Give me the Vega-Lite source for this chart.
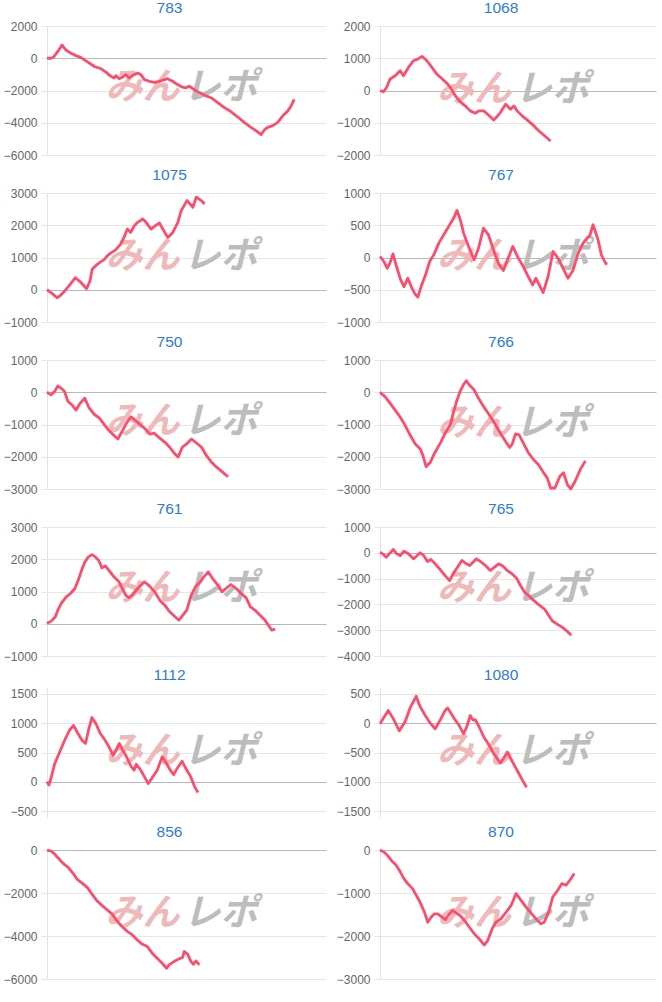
{
"$schema":"https://vega.github.io/schema/vega-lite/v6.json",
"background":"white",
"padding":{"left":3,"top":0,"right":4,"bottom":0},
"datasets":{"d":[
{"p":"783","x":0,"y":0},{"p":"783","x":1.4,"y":0},{"p":"783","x":2.4,"y":82},{"p":"783","x":3.8,"y":408},{"p":"783","x":5.4,"y":816},{"p":"783","x":6.8,"y":510},{"p":"783","x":8.6,"y":306},{"p":"783","x":10.4,"y":163},{"p":"783","x":12.2,"y":41},{"p":"783","x":13.4,"y":-102},{"p":"783","x":15.2,"y":-306},{"p":"783","x":17.0,"y":-510},{"p":"783","x":19.4,"y":-653},{"p":"783","x":21.1,"y":-857},{"p":"783","x":22.9,"y":-1122},{"p":"783","x":24.1,"y":-1224},{"p":"783","x":24.7,"y":-1081},{"p":"783","x":25.9,"y":-1265},{"p":"783","x":27.1,"y":-1163},{"p":"783","x":28.3,"y":-1020},{"p":"783","x":29.5,"y":-1224},{"p":"783","x":30.7,"y":-1061},{"p":"783","x":32.5,"y":-918},{"p":"783","x":33.7,"y":-1020},{"p":"783","x":34.9,"y":-1326},{"p":"783","x":36.7,"y":-1428},{"p":"783","x":38.5,"y":-1489},{"p":"783","x":40.3,"y":-1428},{"p":"783","x":42.1,"y":-1326},{"p":"783","x":43.2,"y":-1265},{"p":"783","x":45.0,"y":-1428},{"p":"783","x":46.8,"y":-1632},{"p":"783","x":48.6,"y":-1795},{"p":"783","x":49.8,"y":-1836},{"p":"783","x":51.0,"y":-1734},{"p":"783","x":52.2,"y":-1877},{"p":"783","x":54.0,"y":-2081},{"p":"783","x":56.4,"y":-2285},{"p":"783","x":58.8,"y":-2448},{"p":"783","x":61.2,"y":-2754},{"p":"783","x":63.6,"y":-3060},{"p":"783","x":65.9,"y":-3305},{"p":"783","x":68.3,"y":-3631},{"p":"783","x":70.7,"y":-3978},{"p":"783","x":73.1,"y":-4284},{"p":"783","x":74.9,"y":-4488},{"p":"783","x":76.7,"y":-4733},{"p":"783","x":77.9,"y":-4447},{"p":"783","x":79.1,"y":-4284},{"p":"783","x":80.9,"y":-4182},{"p":"783","x":82.7,"y":-3978},{"p":"783","x":84.5,"y":-3570},{"p":"783","x":86.3,"y":-3264},{"p":"783","x":87.5,"y":-2958},{"p":"783","x":88.6,"y":-2550},
{"p":"1068","x":0,"y":0},{"p":"1068","x":1.2,"y":-41},{"p":"1068","x":2.4,"y":93},{"p":"1068","x":3.6,"y":352},{"p":"1068","x":5.5,"y":456},{"p":"1068","x":7.3,"y":611},{"p":"1068","x":8.5,"y":456},{"p":"1068","x":10.3,"y":715},{"p":"1068","x":12.1,"y":922},{"p":"1068","x":13.6,"y":974},{"p":"1068","x":15.2,"y":1057},{"p":"1068","x":17.0,"y":922},{"p":"1068","x":18.8,"y":715},{"p":"1068","x":20.6,"y":508},{"p":"1068","x":22.4,"y":373},{"p":"1068","x":24.2,"y":228},{"p":"1068","x":25.5,"y":93},{"p":"1068","x":27.3,"y":-166},{"p":"1068","x":29.1,"y":-352},{"p":"1068","x":30.9,"y":-477},{"p":"1068","x":32.7,"y":-632},{"p":"1068","x":34.5,"y":-704},{"p":"1068","x":35.8,"y":-632},{"p":"1068","x":37.6,"y":-632},{"p":"1068","x":39.4,"y":-767},{"p":"1068","x":41.2,"y":-912},{"p":"1068","x":42.4,"y":-808},{"p":"1068","x":43.6,"y":-684},{"p":"1068","x":45.5,"y":-425},{"p":"1068","x":47.3,"y":-580},{"p":"1068","x":48.5,"y":-477},{"p":"1068","x":49.7,"y":-632},{"p":"1068","x":51.5,"y":-787},{"p":"1068","x":53.3,"y":-912},{"p":"1068","x":55.8,"y":-1098},{"p":"1068","x":57.6,"y":-1254},{"p":"1068","x":59.4,"y":-1388},{"p":"1068","x":61.8,"y":-1564},
{"p":"1075","x":0,"y":0},{"p":"1075","x":1.8,"y":-114},{"p":"1075","x":3.6,"y":-250},{"p":"1075","x":4.8,"y":-177},{"p":"1075","x":6.0,"y":-73},{"p":"1075","x":7.8,"y":114},{"p":"1075","x":10.2,"y":374},{"p":"1075","x":12.0,"y":239},{"p":"1075","x":14.2,"y":31},{"p":"1075","x":15.4,"y":270},{"p":"1075","x":16.2,"y":634},{"p":"1075","x":18.0,"y":790},{"p":"1075","x":19.2,"y":863},{"p":"1075","x":20.4,"y":926},{"p":"1075","x":21.6,"y":1050},{"p":"1075","x":22.8,"y":1134},{"p":"1075","x":24.6,"y":1238},{"p":"1075","x":26.4,"y":1414},{"p":"1075","x":27.6,"y":1622},{"p":"1075","x":28.8,"y":1882},{"p":"1075","x":30.0,"y":1778},{"p":"1075","x":31.3,"y":1986},{"p":"1075","x":32.5,"y":2090},{"p":"1075","x":34.3,"y":2194},{"p":"1075","x":35.5,"y":2090},{"p":"1075","x":37.3,"y":1882},{"p":"1075","x":38.5,"y":1966},{"p":"1075","x":40.3,"y":2070},{"p":"1075","x":41.5,"y":1882},{"p":"1075","x":43.3,"y":1622},{"p":"1075","x":45.1,"y":1778},{"p":"1075","x":46.9,"y":2090},{"p":"1075","x":48.1,"y":2454},{"p":"1075","x":50.2,"y":2766},{"p":"1075","x":52.3,"y":2558},{"p":"1075","x":53.5,"y":2870},{"p":"1075","x":55.3,"y":2766},{"p":"1075","x":56.5,"y":2662},
{"p":"767","x":0,"y":16},{"p":"767","x":1.4,"y":-62},{"p":"767","x":2.6,"y":-166},{"p":"767","x":3.6,"y":-88},{"p":"767","x":4.7,"y":57},{"p":"767","x":6.0,"y":-140},{"p":"767","x":7.5,"y":-347},{"p":"767","x":8.7,"y":-451},{"p":"767","x":10.1,"y":-321},{"p":"767","x":11.3,"y":-451},{"p":"767","x":12.5,"y":-554},{"p":"767","x":13.7,"y":-616},{"p":"767","x":14.9,"y":-451},{"p":"767","x":16.5,"y":-269},{"p":"767","x":18.0,"y":-62},{"p":"767","x":19.5,"y":41},{"p":"767","x":21.3,"y":223},{"p":"767","x":23.1,"y":352},{"p":"767","x":24.9,"y":482},{"p":"767","x":26.7,"y":611},{"p":"767","x":27.9,"y":730},{"p":"767","x":29.1,"y":585},{"p":"767","x":30.3,"y":378},{"p":"767","x":32.1,"y":171},{"p":"767","x":34.1,"y":-36},{"p":"767","x":35.7,"y":145},{"p":"767","x":37.5,"y":456},{"p":"767","x":39.3,"y":352},{"p":"767","x":41.1,"y":119},{"p":"767","x":42.9,"y":-88},{"p":"767","x":44.7,"y":-202},{"p":"767","x":46.2,"y":-36},{"p":"767","x":48.1,"y":171},{"p":"767","x":50.1,"y":-10},{"p":"767","x":51.9,"y":-140},{"p":"767","x":53.7,"y":-295},{"p":"767","x":55.3,"y":-425},{"p":"767","x":56.5,"y":-321},{"p":"767","x":57.7,"y":-425},{"p":"767","x":59.1,"y":-544},{"p":"767","x":60.9,"y":-295},{"p":"767","x":62.7,"y":93},{"p":"767","x":64.5,"y":-10},{"p":"767","x":66.3,"y":-166},{"p":"767","x":68.1,"y":-321},{"p":"767","x":70.0,"y":-192},{"p":"767","x":71.8,"y":67},{"p":"767","x":73.6,"y":223},{"p":"767","x":75.0,"y":300},{"p":"767","x":76.0,"y":337},{"p":"767","x":77.2,"y":508},{"p":"767","x":79.0,"y":275},{"p":"767","x":80.2,"y":41},{"p":"767","x":81.4,"y":-62},{"p":"767","x":82.2,"y":-114},
{"p":"750","x":0,"y":0},{"p":"750","x":1.5,"y":-81},{"p":"750","x":2.7,"y":20},{"p":"750","x":3.9,"y":193},{"p":"750","x":5.1,"y":122},{"p":"750","x":6.3,"y":20},{"p":"750","x":7.5,"y":-284},{"p":"750","x":8.9,"y":-386},{"p":"750","x":10.4,"y":-558},{"p":"750","x":11.5,"y":-386},{"p":"750","x":13.5,"y":-183},{"p":"750","x":15.1,"y":-487},{"p":"750","x":17.0,"y":-690},{"p":"750","x":18.7,"y":-792},{"p":"750","x":20.2,"y":-964},{"p":"750","x":21.8,"y":-1147},{"p":"750","x":23.5,"y":-1299},{"p":"750","x":25.4,"y":-1451},{"p":"750","x":27.0,"y":-1198},{"p":"750","x":28.6,"y":-944},{"p":"750","x":30.1,"y":-761},{"p":"750","x":31.5,"y":-863},{"p":"750","x":33.3,"y":-995},{"p":"750","x":35.1,"y":-1127},{"p":"750","x":36.9,"y":-1299},{"p":"750","x":38.5,"y":-1269},{"p":"750","x":40.1,"y":-1401},{"p":"750","x":42.3,"y":-1553},{"p":"750","x":44.0,"y":-1705},{"p":"750","x":45.8,"y":-1908},{"p":"750","x":47.0,"y":-2010},{"p":"750","x":48.5,"y":-1705},{"p":"750","x":50.0,"y":-1604},{"p":"750","x":51.8,"y":-1451},{"p":"750","x":53.6,"y":-1573},{"p":"750","x":55.4,"y":-1705},{"p":"750","x":57.1,"y":-1959},{"p":"750","x":58.9,"y":-2162},{"p":"750","x":60.7,"y":-2314},{"p":"750","x":62.5,"y":-2446},{"p":"750","x":64.9,"y":-2619},
{"p":"766","x":0,"y":0},{"p":"766","x":1.8,"y":-136},{"p":"766","x":3.7,"y":-346},{"p":"766","x":5.5,"y":-556},{"p":"766","x":7.3,"y":-766},{"p":"766","x":9.1,"y":-1028},{"p":"766","x":11.0,"y":-1343},{"p":"766","x":12.8,"y":-1605},{"p":"766","x":14.6,"y":-1762},{"p":"766","x":15.6,"y":-1972},{"p":"766","x":16.7,"y":-2308},{"p":"766","x":18.3,"y":-2161},{"p":"766","x":19.9,"y":-1867},{"p":"766","x":22.0,"y":-1553},{"p":"766","x":23.8,"y":-1238},{"p":"766","x":25.6,"y":-976},{"p":"766","x":26.5,"y":-661},{"p":"766","x":27.7,"y":-294},{"p":"766","x":29.0,"y":21},{"p":"766","x":30.2,"y":231},{"p":"766","x":31.3,"y":357},{"p":"766","x":32.3,"y":231},{"p":"766","x":34.1,"y":73},{"p":"766","x":35.7,"y":-189},{"p":"766","x":37.2,"y":-399},{"p":"766","x":39.0,"y":-629},{"p":"766","x":40.9,"y":-871},{"p":"766","x":42.7,"y":-1133},{"p":"766","x":44.3,"y":-1364},{"p":"766","x":45.7,"y":-1553},{"p":"766","x":47.0,"y":-1710},{"p":"766","x":47.9,"y":-1605},{"p":"766","x":49.1,"y":-1290},{"p":"766","x":50.4,"y":-1322},{"p":"766","x":51.8,"y":-1553},{"p":"766","x":53.7,"y":-1867},{"p":"766","x":55.5,"y":-2077},{"p":"766","x":57.3,"y":-2234},{"p":"766","x":59.1,"y":-2476},{"p":"766","x":60.6,"y":-2654},{"p":"766","x":61.8,"y":-2969},{"p":"766","x":63.4,"y":-2969},{"p":"766","x":65.2,"y":-2602},{"p":"766","x":66.5,"y":-2497},{"p":"766","x":67.9,"y":-2864},{"p":"766","x":69.1,"y":-3000},{"p":"766","x":70.7,"y":-2759},{"p":"766","x":72.6,"y":-2392},{"p":"766","x":74.4,"y":-2129},
{"p":"761","x":0,"y":10},{"p":"761","x":1.5,"y":82},{"p":"761","x":3.0,"y":217},{"p":"761","x":3.9,"y":423},{"p":"761","x":5.1,"y":629},{"p":"761","x":6.9,"y":835},{"p":"761","x":8.4,"y":938},{"p":"761","x":10.0,"y":1093},{"p":"761","x":11.2,"y":1351},{"p":"761","x":12.4,"y":1660},{"p":"761","x":13.6,"y":1918},{"p":"761","x":14.8,"y":2072},{"p":"761","x":16.1,"y":2144},{"p":"761","x":17.3,"y":2072},{"p":"761","x":18.5,"y":1969},{"p":"761","x":19.7,"y":1732},{"p":"761","x":20.9,"y":1794},{"p":"761","x":22.1,"y":1660},{"p":"761","x":24.0,"y":1454},{"p":"761","x":25.8,"y":1299},{"p":"761","x":27.0,"y":1093},{"p":"761","x":28.2,"y":887},{"p":"761","x":29.4,"y":804},{"p":"761","x":30.7,"y":907},{"p":"761","x":32.5,"y":1093},{"p":"761","x":34.9,"y":1299},{"p":"761","x":36.7,"y":1175},{"p":"761","x":38.6,"y":990},{"p":"761","x":40.4,"y":732},{"p":"761","x":42.2,"y":577},{"p":"761","x":44.0,"y":371},{"p":"761","x":45.9,"y":217},{"p":"761","x":47.3,"y":113},{"p":"761","x":48.5,"y":247},{"p":"761","x":50.1,"y":423},{"p":"761","x":51.7,"y":887},{"p":"761","x":53.2,"y":1144},{"p":"761","x":55.0,"y":1299},{"p":"761","x":56.2,"y":1454},{"p":"761","x":57.8,"y":1608},{"p":"761","x":59.2,"y":1423},{"p":"761","x":61.1,"y":1217},{"p":"761","x":62.7,"y":990},{"p":"761","x":64.1,"y":1093},{"p":"761","x":65.9,"y":1217},{"p":"761","x":67.8,"y":1093},{"p":"761","x":69.6,"y":938},{"p":"761","x":71.4,"y":804},{"p":"761","x":72.9,"y":526},{"p":"761","x":74.5,"y":423},{"p":"761","x":76.3,"y":268},{"p":"761","x":78.1,"y":113},{"p":"761","x":79.7,"y":-93},{"p":"761","x":80.5,"y":-196},{"p":"761","x":81.8,"y":-165},
{"p":"765","x":0,"y":26},{"p":"765","x":1.2,"y":-65},{"p":"765","x":2.2,"y":-169},{"p":"765","x":3.4,"y":-39},{"p":"765","x":4.8,"y":130},{"p":"765","x":6.1,"y":-39},{"p":"765","x":7.3,"y":-104},{"p":"765","x":8.7,"y":65},{"p":"765","x":10.3,"y":-39},{"p":"765","x":12.1,"y":-233},{"p":"765","x":13.1,"y":-143},{"p":"765","x":14.5,"y":0},{"p":"765","x":15.8,"y":-104},{"p":"765","x":17.2,"y":-337},{"p":"765","x":18.4,"y":-259},{"p":"765","x":20.0,"y":-428},{"p":"765","x":21.8,"y":-649},{"p":"765","x":23.6,"y":-882},{"p":"765","x":25.2,"y":-1077},{"p":"765","x":26.7,"y":-778},{"p":"765","x":28.5,"y":-493},{"p":"765","x":29.7,"y":-298},{"p":"765","x":31.3,"y":-428},{"p":"765","x":32.5,"y":-493},{"p":"765","x":33.7,"y":-363},{"p":"765","x":34.9,"y":-233},{"p":"765","x":36.4,"y":-337},{"p":"765","x":38.2,"y":-493},{"p":"765","x":40.0,"y":-687},{"p":"765","x":41.5,"y":-558},{"p":"765","x":43.0,"y":-428},{"p":"765","x":44.6,"y":-519},{"p":"765","x":46.1,"y":-687},{"p":"765","x":47.9,"y":-817},{"p":"765","x":49.5,"y":-986},{"p":"765","x":50.9,"y":-1271},{"p":"765","x":52.4,"y":-1530},{"p":"765","x":53.9,"y":-1660},{"p":"765","x":55.8,"y":-1855},{"p":"765","x":57.6,"y":-2023},{"p":"765","x":59.6,"y":-2179},{"p":"765","x":61.2,"y":-2438},{"p":"765","x":62.4,"y":-2633},{"p":"765","x":64.2,"y":-2763},{"p":"765","x":66.1,"y":-2892},{"p":"765","x":67.6,"y":-3022},{"p":"765","x":69.3,"y":-3191},
{"p":"1112","x":0,"y":0},{"p":"1112","x":0.7,"y":-56},{"p":"1112","x":1.5,"y":71},{"p":"1112","x":2.7,"y":300},{"p":"1112","x":4.5,"y":503},{"p":"1112","x":6.3,"y":706},{"p":"1112","x":8.1,"y":884},{"p":"1112","x":9.5,"y":960},{"p":"1112","x":11.0,"y":833},{"p":"1112","x":12.6,"y":706},{"p":"1112","x":13.8,"y":655},{"p":"1112","x":14.9,"y":884},{"p":"1112","x":16.1,"y":1097},{"p":"1112","x":17.6,"y":986},{"p":"1112","x":19.0,"y":833},{"p":"1112","x":20.5,"y":732},{"p":"1112","x":22.1,"y":605},{"p":"1112","x":23.7,"y":452},{"p":"1112","x":24.9,"y":554},{"p":"1112","x":25.9,"y":655},{"p":"1112","x":27.0,"y":554},{"p":"1112","x":28.5,"y":427},{"p":"1112","x":30.0,"y":274},{"p":"1112","x":31.2,"y":198},{"p":"1112","x":32.0,"y":300},{"p":"1112","x":33.6,"y":198},{"p":"1112","x":35.1,"y":71},{"p":"1112","x":36.3,"y":-30},{"p":"1112","x":37.7,"y":71},{"p":"1112","x":39.5,"y":198},{"p":"1112","x":41.3,"y":427},{"p":"1112","x":42.7,"y":325},{"p":"1112","x":44.2,"y":198},{"p":"1112","x":45.4,"y":122},{"p":"1112","x":46.6,"y":224},{"p":"1112","x":48.4,"y":351},{"p":"1112","x":49.8,"y":224},{"p":"1112","x":51.4,"y":97},{"p":"1112","x":52.9,"y":-81},{"p":"1112","x":54.1,"y":-183},
{"p":"1080","x":0,"y":-10},{"p":"1080","x":1.5,"y":104},{"p":"1080","x":3.0,"y":218},{"p":"1080","x":4.8,"y":78},{"p":"1080","x":7.0,"y":-130},{"p":"1080","x":9.1,"y":26},{"p":"1080","x":10.9,"y":260},{"p":"1080","x":13.1,"y":458},{"p":"1080","x":14.5,"y":286},{"p":"1080","x":16.4,"y":130},{"p":"1080","x":18.2,"y":0},{"p":"1080","x":20.0,"y":-94},{"p":"1080","x":21.8,"y":52},{"p":"1080","x":23.6,"y":218},{"p":"1080","x":24.5,"y":260},{"p":"1080","x":25.2,"y":208},{"p":"1080","x":26.9,"y":78},{"p":"1080","x":28.5,"y":-26},{"p":"1080","x":30.3,"y":-182},{"p":"1080","x":31.5,"y":-52},{"p":"1080","x":32.7,"y":130},{"p":"1080","x":33.7,"y":52},{"p":"1080","x":34.5,"y":62},{"p":"1080","x":35.8,"y":-52},{"p":"1080","x":37.6,"y":-234},{"p":"1080","x":39.4,"y":-364},{"p":"1080","x":41.2,"y":-520},{"p":"1080","x":43.6,"y":-676},{"p":"1080","x":44.8,"y":-598},{"p":"1080","x":46.1,"y":-494},{"p":"1080","x":47.3,"y":-598},{"p":"1080","x":48.5,"y":-702},{"p":"1080","x":50.3,"y":-858},{"p":"1080","x":51.5,"y":-962},{"p":"1080","x":53.1,"y":-1092},
{"p":"856","x":0,"y":0},{"p":"856","x":1.6,"y":-63},{"p":"856","x":2.8,"y":-188},{"p":"856","x":4.0,"y":-375},{"p":"856","x":5.8,"y":-625},{"p":"856","x":7.6,"y":-813},{"p":"856","x":9.4,"y":-1094},{"p":"856","x":10.8,"y":-1360},{"p":"856","x":12.8,"y":-1563},{"p":"856","x":14.5,"y":-1751},{"p":"856","x":16.0,"y":-2032},{"p":"856","x":17.8,"y":-2345},{"p":"856","x":19.6,"y":-2563},{"p":"856","x":21.4,"y":-2767},{"p":"856","x":23.3,"y":-2970},{"p":"856","x":24.5,"y":-3189},{"p":"856","x":25.7,"y":-3392},{"p":"856","x":27.2,"y":-3595},{"p":"856","x":28.7,"y":-3782},{"p":"856","x":30.5,"y":-3939},{"p":"856","x":32.3,"y":-4173},{"p":"856","x":34.1,"y":-4376},{"p":"856","x":35.9,"y":-4486},{"p":"856","x":37.7,"y":-4798},{"p":"856","x":39.5,"y":-5033},{"p":"856","x":41.3,"y":-5267},{"p":"856","x":42.9,"y":-5502},{"p":"856","x":43.7,"y":-5345},{"p":"856","x":45.5,"y":-5189},{"p":"856","x":47.3,"y":-5064},{"p":"856","x":48.6,"y":-5002},{"p":"856","x":49.2,"y":-4720},{"p":"856","x":50.4,"y":-4845},{"p":"856","x":51.6,"y":-5189},{"p":"856","x":52.5,"y":-5314},{"p":"856","x":53.4,"y":-5158},{"p":"856","x":54.6,"y":-5345},
{"p":"870","x":0,"y":0},{"p":"870","x":1.6,"y":-55},{"p":"870","x":2.8,"y":-133},{"p":"870","x":4.3,"y":-258},{"p":"870","x":5.8,"y":-351},{"p":"870","x":7.0,"y":-469},{"p":"870","x":8.5,"y":-648},{"p":"870","x":10.0,"y":-781},{"p":"870","x":11.8,"y":-898},{"p":"870","x":13.3,"y":-1070},{"p":"870","x":14.5,"y":-1211},{"p":"870","x":16.1,"y":-1445},{"p":"870","x":17.3,"y":-1679},{"p":"870","x":18.5,"y":-1562},{"p":"870","x":19.7,"y":-1484},{"p":"870","x":20.9,"y":-1484},{"p":"870","x":22.5,"y":-1562},{"p":"870","x":23.7,"y":-1617},{"p":"870","x":24.9,"y":-1507},{"p":"870","x":26.3,"y":-1406},{"p":"870","x":27.5,"y":-1460},{"p":"870","x":29.0,"y":-1523},{"p":"870","x":30.6,"y":-1640},{"p":"870","x":32.4,"y":-1796},{"p":"870","x":34.2,"y":-1953},{"p":"870","x":36.0,"y":-2070},{"p":"870","x":37.8,"y":-2210},{"p":"870","x":39.0,"y":-2109},{"p":"870","x":40.6,"y":-1835},{"p":"870","x":42.0,"y":-1679},{"p":"870","x":43.8,"y":-1601},{"p":"870","x":45.7,"y":-1445},{"p":"870","x":47.5,"y":-1289},{"p":"870","x":49.3,"y":-1015},{"p":"870","x":51.1,"y":-1172},{"p":"870","x":52.9,"y":-1328},{"p":"870","x":54.7,"y":-1460},{"p":"870","x":56.5,"y":-1601},{"p":"870","x":58.3,"y":-1718},{"p":"870","x":59.5,"y":-1679},{"p":"870","x":61.1,"y":-1445},{"p":"870","x":62.6,"y":-1093},{"p":"870","x":64.4,"y":-937},{"p":"870","x":65.9,"y":-781},{"p":"870","x":67.4,"y":-820},{"p":"870","x":68.8,"y":-703},{"p":"870","x":70.4,"y":-547}
]},
"data":{"name":"d"},
"spacing":6,
"vconcat":[
{"hconcat":[
{"title":"783","width":279,"height":129,"transform":[{"filter":"datum.p==='783'"}],"layer":[
{"transform":[{"filter":"datum.x===0"}],"mark":{"type":"text","text":"みん","align":"right","dx":-7},"encoding":{"x":{"datum":50,"axis":null},"y":{"datum":-1440,"title":null}}},
{"transform":[{"filter":"datum.x===0"}],"mark":{"type":"text","text":"レポ","align":"left","dx":-3,"color":"#bdbdbd"},"encoding":{"x":{"datum":50,"axis":null},"y":{"datum":-1440,"title":null}}},
{"mark":"line","encoding":{"x":{"field":"x","type":"quantitative","scale":{"domain":[0,100]},"axis":null},"y":{"field":"y","type":"quantitative","scale":{"domain":[-6000,2000]},"title":null,"axis":{"format":"d","gridColor":{"condition":{"test":"datum.value===0","value":"#b8b8b8"},"value":"#e6e6e6"}}}}}]},
{"title":"1068","width":276,"height":129,"transform":[{"filter":"datum.p==='1068'"}],"layer":[
{"transform":[{"filter":"datum.x===0"}],"mark":{"type":"text","text":"みん","align":"right","dx":-7},"encoding":{"x":{"datum":50,"axis":null},"y":{"datum":240,"title":null}}},
{"transform":[{"filter":"datum.x===0"}],"mark":{"type":"text","text":"レポ","align":"left","dx":-3,"color":"#bdbdbd"},"encoding":{"x":{"datum":50,"axis":null},"y":{"datum":240,"title":null}}},
{"mark":"line","encoding":{"x":{"field":"x","type":"quantitative","scale":{"domain":[0,100]},"axis":null},"y":{"field":"y","type":"quantitative","scale":{"domain":[-2000,2000]},"title":null,"axis":{"format":"d","gridColor":{"condition":{"test":"datum.value===0","value":"#b8b8b8"},"value":"#e6e6e6"}}}}}]}
]},
{"hconcat":[
{"title":"1075","width":279,"height":129,"transform":[{"filter":"datum.p==='1075'"}],"layer":[
{"transform":[{"filter":"datum.x===0"}],"mark":{"type":"text","text":"みん","align":"right","dx":-7},"encoding":{"x":{"datum":50,"axis":null},"y":{"datum":1240,"title":null}}},
{"transform":[{"filter":"datum.x===0"}],"mark":{"type":"text","text":"レポ","align":"left","dx":-3,"color":"#bdbdbd"},"encoding":{"x":{"datum":50,"axis":null},"y":{"datum":1240,"title":null}}},
{"mark":"line","encoding":{"x":{"field":"x","type":"quantitative","scale":{"domain":[0,100]},"axis":null},"y":{"field":"y","type":"quantitative","scale":{"domain":[-1000,3000]},"title":null,"axis":{"format":"d","gridColor":{"condition":{"test":"datum.value===0","value":"#b8b8b8"},"value":"#e6e6e6"}}}}}]},
{"title":"767","width":276,"height":129,"transform":[{"filter":"datum.p==='767'"}],"layer":[
{"transform":[{"filter":"datum.x===0"}],"mark":{"type":"text","text":"みん","align":"right","dx":-7},"encoding":{"x":{"datum":50,"axis":null},"y":{"datum":120,"title":null}}},
{"transform":[{"filter":"datum.x===0"}],"mark":{"type":"text","text":"レポ","align":"left","dx":-3,"color":"#bdbdbd"},"encoding":{"x":{"datum":50,"axis":null},"y":{"datum":120,"title":null}}},
{"mark":"line","encoding":{"x":{"field":"x","type":"quantitative","scale":{"domain":[0,100]},"axis":null},"y":{"field":"y","type":"quantitative","scale":{"domain":[-1000,1000]},"title":null,"axis":{"format":"d","gridColor":{"condition":{"test":"datum.value===0","value":"#b8b8b8"},"value":"#e6e6e6"}}}}}]}
]},
{"hconcat":[
{"title":"750","width":279,"height":129,"transform":[{"filter":"datum.p==='750'"}],"layer":[
{"transform":[{"filter":"datum.x===0"}],"mark":{"type":"text","text":"みん","align":"right","dx":-7},"encoding":{"x":{"datum":50,"axis":null},"y":{"datum":-720,"title":null}}},
{"transform":[{"filter":"datum.x===0"}],"mark":{"type":"text","text":"レポ","align":"left","dx":-3,"color":"#bdbdbd"},"encoding":{"x":{"datum":50,"axis":null},"y":{"datum":-720,"title":null}}},
{"mark":"line","encoding":{"x":{"field":"x","type":"quantitative","scale":{"domain":[0,100]},"axis":null},"y":{"field":"y","type":"quantitative","scale":{"domain":[-3000,1000]},"title":null,"axis":{"format":"d","gridColor":{"condition":{"test":"datum.value===0","value":"#b8b8b8"},"value":"#e6e6e6"}}}}}]},
{"title":"766","width":276,"height":129,"transform":[{"filter":"datum.p==='766'"}],"layer":[
{"transform":[{"filter":"datum.x===0"}],"mark":{"type":"text","text":"みん","align":"right","dx":-7},"encoding":{"x":{"datum":50,"axis":null},"y":{"datum":-760,"title":null}}},
{"transform":[{"filter":"datum.x===0"}],"mark":{"type":"text","text":"レポ","align":"left","dx":-3,"color":"#bdbdbd"},"encoding":{"x":{"datum":50,"axis":null},"y":{"datum":-760,"title":null}}},
{"mark":"line","encoding":{"x":{"field":"x","type":"quantitative","scale":{"domain":[0,100]},"axis":null},"y":{"field":"y","type":"quantitative","scale":{"domain":[-3000,1000]},"title":null,"axis":{"format":"d","gridColor":{"condition":{"test":"datum.value===0","value":"#b8b8b8"},"value":"#e6e6e6"}}}}}]}
]},
{"hconcat":[
{"title":"761","width":279,"height":129,"transform":[{"filter":"datum.p==='761'"}],"layer":[
{"transform":[{"filter":"datum.x===0"}],"mark":{"type":"text","text":"みん","align":"right","dx":-7},"encoding":{"x":{"datum":50,"axis":null},"y":{"datum":1280,"title":null}}},
{"transform":[{"filter":"datum.x===0"}],"mark":{"type":"text","text":"レポ","align":"left","dx":-3,"color":"#bdbdbd"},"encoding":{"x":{"datum":50,"axis":null},"y":{"datum":1280,"title":null}}},
{"mark":"line","encoding":{"x":{"field":"x","type":"quantitative","scale":{"domain":[0,100]},"axis":null},"y":{"field":"y","type":"quantitative","scale":{"domain":[-1000,3000]},"title":null,"axis":{"format":"d","gridColor":{"condition":{"test":"datum.value===0","value":"#b8b8b8"},"value":"#e6e6e6"}}}}}]},
{"title":"765","width":276,"height":129,"transform":[{"filter":"datum.p==='765'"}],"layer":[
{"transform":[{"filter":"datum.x===0"}],"mark":{"type":"text","text":"みん","align":"right","dx":-7},"encoding":{"x":{"datum":50,"axis":null},"y":{"datum":-1150,"title":null}}},
{"transform":[{"filter":"datum.x===0"}],"mark":{"type":"text","text":"レポ","align":"left","dx":-3,"color":"#bdbdbd"},"encoding":{"x":{"datum":50,"axis":null},"y":{"datum":-1150,"title":null}}},
{"mark":"line","encoding":{"x":{"field":"x","type":"quantitative","scale":{"domain":[0,100]},"axis":null},"y":{"field":"y","type":"quantitative","scale":{"domain":[-4000,1000]},"title":null,"axis":{"format":"d","gridColor":{"condition":{"test":"datum.value===0","value":"#b8b8b8"},"value":"#e6e6e6"}}}}}]}
]},
{"hconcat":[
{"title":"1112","width":279,"height":129,"transform":[{"filter":"datum.p==='1112'"}],"layer":[
{"transform":[{"filter":"datum.x===0"}],"mark":{"type":"text","text":"みん","align":"right","dx":-7},"encoding":{"x":{"datum":50,"axis":null},"y":{"datum":620,"title":null}}},
{"transform":[{"filter":"datum.x===0"}],"mark":{"type":"text","text":"レポ","align":"left","dx":-3,"color":"#bdbdbd"},"encoding":{"x":{"datum":50,"axis":null},"y":{"datum":620,"title":null}}},
{"mark":"line","encoding":{"x":{"field":"x","type":"quantitative","scale":{"domain":[0,100]},"axis":null},"y":{"field":"y","type":"quantitative","scale":{"domain":[-500,1500]},"title":null,"axis":{"format":"d","gridColor":{"condition":{"test":"datum.value===0","value":"#b8b8b8"},"value":"#e6e6e6"}}}}}]},
{"title":"1080","width":276,"height":129,"transform":[{"filter":"datum.p==='1080'"}],"layer":[
{"transform":[{"filter":"datum.x===0"}],"mark":{"type":"text","text":"みん","align":"right","dx":-7},"encoding":{"x":{"datum":50,"axis":null},"y":{"datum":-380,"title":null}}},
{"transform":[{"filter":"datum.x===0"}],"mark":{"type":"text","text":"レポ","align":"left","dx":-3,"color":"#bdbdbd"},"encoding":{"x":{"datum":50,"axis":null},"y":{"datum":-380,"title":null}}},
{"mark":"line","encoding":{"x":{"field":"x","type":"quantitative","scale":{"domain":[0,100]},"axis":null},"y":{"field":"y","type":"quantitative","scale":{"domain":[-1500,500]},"title":null,"axis":{"format":"d","gridColor":{"condition":{"test":"datum.value===0","value":"#b8b8b8"},"value":"#e6e6e6"}}}}}]}
]},
{"hconcat":[
{"title":"856","width":279,"height":129,"transform":[{"filter":"datum.p==='856'"}],"layer":[
{"transform":[{"filter":"datum.x===0"}],"mark":{"type":"text","text":"みん","align":"right","dx":-7},"encoding":{"x":{"datum":50,"axis":null},"y":{"datum":-2640,"title":null}}},
{"transform":[{"filter":"datum.x===0"}],"mark":{"type":"text","text":"レポ","align":"left","dx":-3,"color":"#bdbdbd"},"encoding":{"x":{"datum":50,"axis":null},"y":{"datum":-2640,"title":null}}},
{"mark":"line","encoding":{"x":{"field":"x","type":"quantitative","scale":{"domain":[0,100]},"axis":null},"y":{"field":"y","type":"quantitative","scale":{"domain":[-6000,0]},"title":null,"axis":{"format":"d","gridColor":{"condition":{"test":"datum.value===0","value":"#b8b8b8"},"value":"#e6e6e6"}}}}}]},
{"title":"870","width":276,"height":129,"transform":[{"filter":"datum.p==='870'"}],"layer":[
{"transform":[{"filter":"datum.x===0"}],"mark":{"type":"text","text":"みん","align":"right","dx":-7},"encoding":{"x":{"datum":50,"axis":null},"y":{"datum":-1320,"title":null}}},
{"transform":[{"filter":"datum.x===0"}],"mark":{"type":"text","text":"レポ","align":"left","dx":-3,"color":"#bdbdbd"},"encoding":{"x":{"datum":50,"axis":null},"y":{"datum":-1320,"title":null}}},
{"mark":"line","encoding":{"x":{"field":"x","type":"quantitative","scale":{"domain":[0,100]},"axis":null},"y":{"field":"y","type":"quantitative","scale":{"domain":[-3000,0]},"title":null,"axis":{"format":"d","gridColor":{"condition":{"test":"datum.value===0","value":"#b8b8b8"},"value":"#e6e6e6"}}}}}]}
]}
],
"config":{
"view":{"stroke":null},
"concat":{"spacing":10},
"title":{"font":"Liberation Sans","fontSize":15.5,"fontWeight":"normal","color":"#2d7bd6","dx":-17,"offset":4},
"axisY":{"tickCount":4,"grid":true,"domainColor":"#e3e3e3","tickColor":"#e6e6e6","tickSize":6,"labelPadding":4,"labelFont":"Liberation Sans","labelFontSize":12,"labelColor":"#666666"},
"line":{"color":"#fd4d6c","strokeWidth":2.8,"strokeJoin":"round"},
"text":{"font":"Noto Sans CJK JP","fontSize":37,"fontWeight":"bold","fontStyle":"italic","color":"#f0b9b9","baseline":"middle","dy":7}
}
}
